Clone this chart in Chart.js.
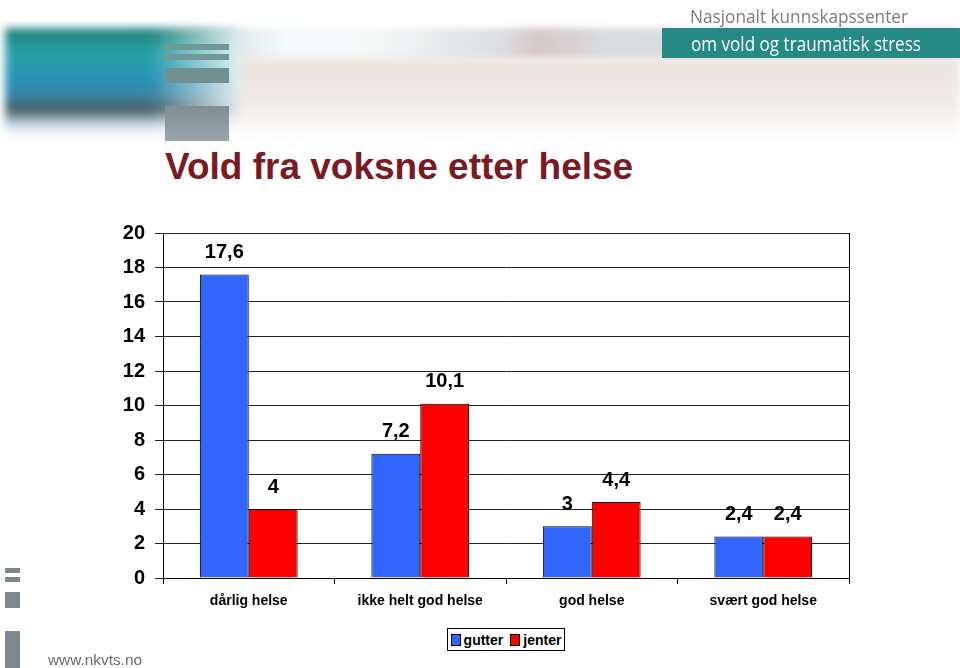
<!DOCTYPE html>
<html>
<head>
<meta charset="utf-8">
<script src="https://cdn.jsdelivr.net/npm/chart.js@4.4.1/dist/chart.umd.min.js"></script>
<style>
  body { margin: 0; width: 960px; height: 668px; overflow: hidden; background: #fff; position: relative; font-family: "Liberation Sans", Arial, sans-serif; }
  .abs { position: absolute; }
  .fit { white-space: nowrap; transform-origin: 0 50%; display: inline-block; }
  #chartBox { position: absolute; left: 0; top: 190px; }
  #legend { position: absolute; left: 447px; top: 628px; width: 116px; height: 21px; border: 1px solid #000; background: #fff;
            display: flex; align-items: center; justify-content: center; gap: 7px; font: bold 14px "Liberation Sans", Arial, sans-serif; }
  #legend span.sw { display: inline-block; width: 8px; height: 10px; border: 1px solid #000; margin-right: 3px; vertical-align: -1px; }
</style>
</head>
<body>

<!-- header artwork -->
<div class="abs" style="left:120px;top:28px;width:840px;height:32px;filter:blur(3px);
  background:linear-gradient(to right, rgba(220,224,227,0) 0%, #dde3e6 12%, #f4fbfb 20%, #f6f8f8 30%, #dcdfe2 45%, #d8c9c8 50%, #d9dde0 58%, #d6dade 100%);"></div>
<div class="abs" style="left:230px;top:58px;width:730px;height:84px;filter:blur(4px);
  background:linear-gradient(to bottom, #ece5e0 0%, #efeae7 50%, rgba(255,255,255,0) 100%);"></div>
<div class="abs" style="left:5px;top:28px;width:235px;height:114px;filter:blur(4px);
  background:
    linear-gradient(to bottom, rgba(255,255,255,0) 0%, rgba(255,255,255,0) 76%, rgba(255,255,255,1) 100%),
    linear-gradient(to right, rgba(255,255,255,0) 0%, rgba(255,255,255,0) 62%, rgba(255,255,255,0.85) 100%),
    linear-gradient(to bottom, #1f7d78 0%, #28a3a6 22%, #2a92b8 45%, #3b84a2 60%, #4a5c63 71%, #9fbfd0 84%, #ffffff 100%);"></div>
<div class="abs" style="left:165px;top:44px;width:64px;height:6px;background:#6f9898;"></div>
<div class="abs" style="left:165px;top:54px;width:64px;height:6px;background:#6f9898;"></div>
<div class="abs" style="left:165px;top:68px;width:64px;height:15px;background:#72908f;"></div>
<div class="abs" style="left:165px;top:106px;width:64px;height:35px;background:linear-gradient(to bottom,#7f8f96,#9aa6aa);"></div>

<div class="abs" style="left:662px;top:28px;width:298px;height:30px;background:#248a83;"></div>
<div class="abs" style="left:690px;top:3px;height:24px;line-height:24px;color:#7b7b7b;font:19px 'Open Sans', sans-serif;">
  <span class="fit" data-w="218">Nasjonalt kunnskapssenter</span></div>
<div class="abs" style="left:691px;top:30px;height:24px;line-height:24px;color:#ffffff;font:20px 'Open Sans', sans-serif;">
  <span class="fit" data-w="230">om vold og traumatisk stress</span></div>

<!-- footer artwork -->
<div class="abs" style="left:5px;top:568px;width:15px;height:5px;background:#7d898d;"></div>
<div class="abs" style="left:5px;top:577px;width:15px;height:5px;background:#7d898d;"></div>
<div class="abs" style="left:5px;top:592px;width:15px;height:16px;background:#7d898d;"></div>
<div class="abs" style="left:5px;top:631px;width:15px;height:37px;background:#7d898d;"></div>
<div class="abs" style="left:48px;top:651px;height:18px;line-height:18px;color:#6a6a6a;font:15px 'Liberation Sans', sans-serif;">
  <span class="fit" data-w="94">www.nkvts.no</span></div>

<div class="abs" style="left:165px;top:146px;line-height:37px;font:bold 37px 'Liberation Sans', Arial, sans-serif;color:#7b1a22;">Vold fra voksne etter helse</div>

<div id="chartBox"><canvas id="chart" width="960" height="430"></canvas></div>
<div id="legend"></div>

<script>
const categories = ['dårlig helse', 'ikke helt god helse', 'god helse', 'svært god helse'];
const gutter = [17.6, 7.2, 3, 2.4];
const jenter = [4, 10.1, 4.4, 2.4];
const yTicks = [0, 2, 4, 6, 8, 10, 12, 14, 16, 18, 20];

document.querySelectorAll('.fit').forEach(function (el) {
  const w = el.getBoundingClientRect().width;
  el.style.transform = 'scaleX(' + (el.dataset.w / w) + ')';
});

const valueLabels = {
  id: 'valueLabels',
  afterDatasetsDraw(chart) {
    const ctx = chart.ctx;
    ctx.save();
    ctx.font = 'bold 20px "Liberation Sans", Arial, sans-serif';
    ctx.fillStyle = '#000';
    ctx.textAlign = 'center';
    ctx.textBaseline = 'middle';
    chart.data.datasets.forEach(function (ds, i) {
      chart.getDatasetMeta(i).data.forEach(function (bar, j) {
        ctx.fillText(String(ds.data[j]).replace('.', ','), bar.x, bar.y - 22);
      });
    });
    ctx.restore();
  }
};

const rightEdge = {
  id: 'rightEdge',
  afterDraw(chart) {
    const a = chart.chartArea, ctx = chart.ctx;
    ctx.save();
    ctx.strokeStyle = '#000';
    ctx.lineWidth = 1;
    ctx.beginPath();
    ctx.moveTo(Math.round(a.right) + 0.5, a.top);
    ctx.lineTo(Math.round(a.right) + 0.5, a.bottom);
    ctx.stroke();
    ctx.restore();
  }
};

const chart = new Chart(document.getElementById('chart'), {
  type: 'bar',
  data: {
    labels: categories,
    datasets: [
      { label: 'gutter', data: gutter, backgroundColor: '#3366ff', borderColor: '#000', borderWidth: 1,
        categoryPercentage: 0.57, barPercentage: 1 },
      { label: 'jenter', data: jenter, backgroundColor: '#ff0000', borderColor: '#000', borderWidth: 1,
        categoryPercentage: 0.57, barPercentage: 1 }
    ]
  },
  options: {
    responsive: false,
    animation: false,
    layout: { padding: { left: 0, right: 111, top: 43, bottom: 0 } },
    plugins: { legend: { display: false }, tooltip: { enabled: false }, title: { display: false } },
    scales: {
      x: {
        afterFit(scale) { scale.height = 42; },
        grid: { offset: true, drawOnChartArea: false, color: '#000', tickLength: 6 },
        border: { display: true, color: '#000' },
        ticks: { color: '#000', padding: 9, font: { family: '"Liberation Sans", Arial, sans-serif', size: 14, weight: 'bold' } }
      },
      y: {
        min: 0, max: 20,
        afterFit(scale) { scale.width = 163; },
        afterBuildTicks(scale) { scale.ticks = yTicks.map(v => ({ value: v })); },
        grid: { color: '#222', tickLength: 8 },
        border: { display: true, color: '#000' },
        ticks: { color: '#000', padding: 10, font: { family: '"Liberation Sans", Arial, sans-serif', size: 20, weight: 'bold' } }
      }
    }
  },
  plugins: [valueLabels, rightEdge]
});

const legend = document.getElementById('legend');
chart.data.datasets.forEach(function (ds) {
  const item = document.createElement('div');
  item.innerHTML = '<span class="sw" style="background:' + ds.backgroundColor + '"></span>' + ds.label;
  legend.appendChild(item);
});
</script>
</body>
</html>
